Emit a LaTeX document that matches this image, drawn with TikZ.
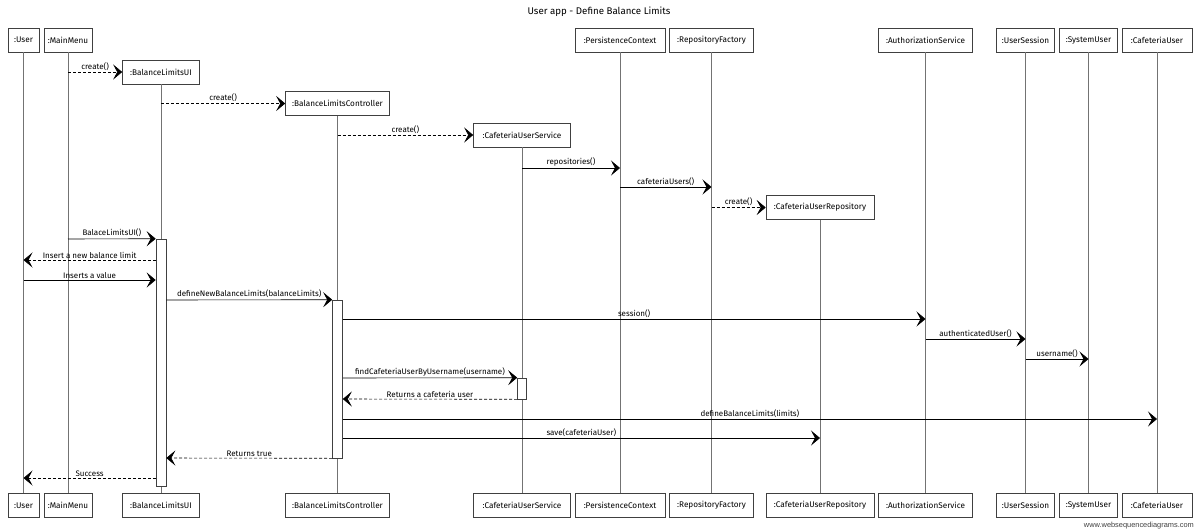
\documentclass[tikz,border=0pt]{standalone}
\usepackage{fontspec}
\setmainfont{Fira Sans}
\newfontfamily\wmfont{Liberation Sans}
\usetikzlibrary{arrows.meta}
\begin{document}
\begin{tikzpicture}[x=1pt,y=-1pt,
  obj/.style={draw=black!75, fill=white, line width=0.6pt, minimum height=24pt,
              inner sep=0pt, font=\fontsize{8.2}{9}\selectfont},
  life/.style={draw=black!55, line width=0.6pt},
  actbar/.style={draw=black!75, fill=white, line width=0.6pt, minimum width=10pt, inner sep=0pt},
  msg/.style={draw=black, line width=0.6pt, -{Stealth[length=9pt,width=15pt,inset=4pt]}},
  ret/.style={msg, dash pattern=on 3pt off 2pt},
  lbl/.style={above, inner sep=1.5pt, font=\fontsize{8}{9}\selectfont, midway}
]
\useasboundingbox (0,0) rectangle (1200,531);
\fill[white] (0,0) rectangle (1200,531);

\node (title) at (599,12) {\fontsize{9.7}{11}\selectfont User app - Define Balance Limits};

% participants, top row
\node[obj, minimum width=31pt]  (user) at (23.5,40)   {:User};
\node[obj, minimum width=48pt]  (mm)   at (68,40)     {:MainMenu};
\node[obj, minimum width=77pt]  (ui)   at (161,72)    {:BalanceLimitsUI};
\node[obj, minimum width=104pt] (ctl)  at (337.5,103.5) {:BalanceLimitsController};
\node[obj, minimum width=97pt]  (svc)  at (522,135)   {:CafeteriaUserService};
\node[obj, minimum width=90pt]  (pc)   at (620,40)    {:PersistenceContext};
\node[obj, minimum width=84pt]  (rf)   at (711.5,40)  {:RepositoryFactory};
\node[obj, minimum width=108pt] (repo) at (820,207.5) {:CafeteriaUserRepository};
\node[obj, minimum width=94pt]  (auth) at (925.5,40)  {:AuthorizationService};
\node[obj, minimum width=58pt]  (us)   at (1025.5,40) {:UserSession};
\node[obj, minimum width=58pt]  (su)   at (1088.5,40) {:SystemUser};
\node[obj, minimum width=70pt]  (cu)   at (1157,40)   {:CafeteriaUser};

% participants, bottom row
\node[obj, minimum width=31pt]  (userB) at (23.5,505.5)  {:User};
\node[obj, minimum width=48pt]  (mmB)   at (68,505.5)    {:MainMenu};
\node[obj, minimum width=77pt]  (uiB)   at (161,505.5)   {:BalanceLimitsUI};
\node[obj, minimum width=104pt] (ctlB)  at (337.5,505.5) {:BalanceLimitsController};
\node[obj, minimum width=97pt]  (svcB)  at (522,505.5)   {:CafeteriaUserService};
\node[obj, minimum width=90pt]  (pcB)   at (620,505.5)   {:PersistenceContext};
\node[obj, minimum width=84pt]  (rfB)   at (711.5,505.5) {:RepositoryFactory};
\node[obj, minimum width=108pt] (repoB) at (820,505.5)   {:CafeteriaUserRepository};
\node[obj, minimum width=94pt]  (authB) at (925.5,505.5) {:AuthorizationService};
\node[obj, minimum width=58pt]  (usB)   at (1025.5,505.5) {:UserSession};
\node[obj, minimum width=58pt]  (suB)   at (1088.5,505.5) {:SystemUser};
\node[obj, minimum width=70pt]  (cuB)   at (1157,505.5)  {:CafeteriaUser};

% lifelines
\foreach \p in {user,mm,ui,ctl,svc,pc,rf,repo,auth,us,su,cu}
  \draw[life] (\p.south) -- (\p B.north);

% activation bars
\node[actbar, minimum height=247pt] (uibar)  at (161,362.5)   {};
\node[actbar, minimum height=158pt] (ctlbar) at (337.5,379)   {};
\node[actbar, minimum height=21pt, minimum width=9pt] (svcbar) at (522,388.5) {};

% creation messages
\draw[ret] (mm |- 0,72) -- (ui.west) node[lbl] {create()};
\draw[ret] (ui |- 0,103.5) -- (ctl.west) node[lbl] {create()};
\draw[ret] (ctl |- 0,135) -- (svc.west) node[lbl] {create()};
\draw[msg] (svc |- 0,168) -- (pc |- 0,168) node[lbl] {repositories()};
\draw[msg] (pc |- 0,187) -- (rf |- 0,187) node[lbl] {cafeteriaUsers()};
\draw[ret] (rf |- 0,207.5) -- (repo.west) node[lbl] {create()};

% interaction
\draw[msg] (mm |- 0,239) -- (uibar.north west) node[lbl] {BalaceLimitsUI()};
\draw[ret] (uibar.west |- 0,260) -- (user |- 0,260) node[lbl] {Insert a new balance limit};
\draw[msg] (user |- 0,280) -- (uibar.west |- 0,280) node[lbl] {Inserts a value};
\draw[msg] (uibar.east |- 0,300) -- (ctlbar.north west) node[lbl] {defineNewBalanceLimits(balanceLimits)};
\draw[msg] (ctlbar.east |- 0,319) -- (auth |- 0,319) node[lbl] {session()};
\draw[msg] (auth |- 0,339) -- (us |- 0,339) node[lbl] {authenticatedUser()};
\draw[msg] (us |- 0,359) -- (su |- 0,359) node[lbl] {username()};
\draw[msg] (ctlbar.east |- 0,378) -- (svcbar.north west) node[lbl] {findCafeteriaUserByUsername(username)};
\draw[ret] (svcbar.south west) -- (ctlbar.east |- 0,399) node[lbl] {Returns a cafeteria user};
\draw[msg] (ctlbar.east |- 0,419) -- (cu |- 0,419) node[lbl] {defineBalanceLimits(limits)};
\draw[msg] (ctlbar.east |- 0,438) -- (repo |- 0,438) node[lbl] {save(cafeteriaUser)};
\draw[ret] (ctlbar.south west) -- (uibar.east |- 0,458) node[lbl] {Returns true};
\draw[ret] (uibar.west |- 0,478) -- (user |- 0,478) node[lbl] {Success};

\node[anchor=south east, inner sep=0pt, text=black!75, font=\wmfont\fontsize{7.4}{8}\selectfont]
  (wm) at (1194,529) {www.websequencediagrams.com};
\end{tikzpicture}
\end{document}
